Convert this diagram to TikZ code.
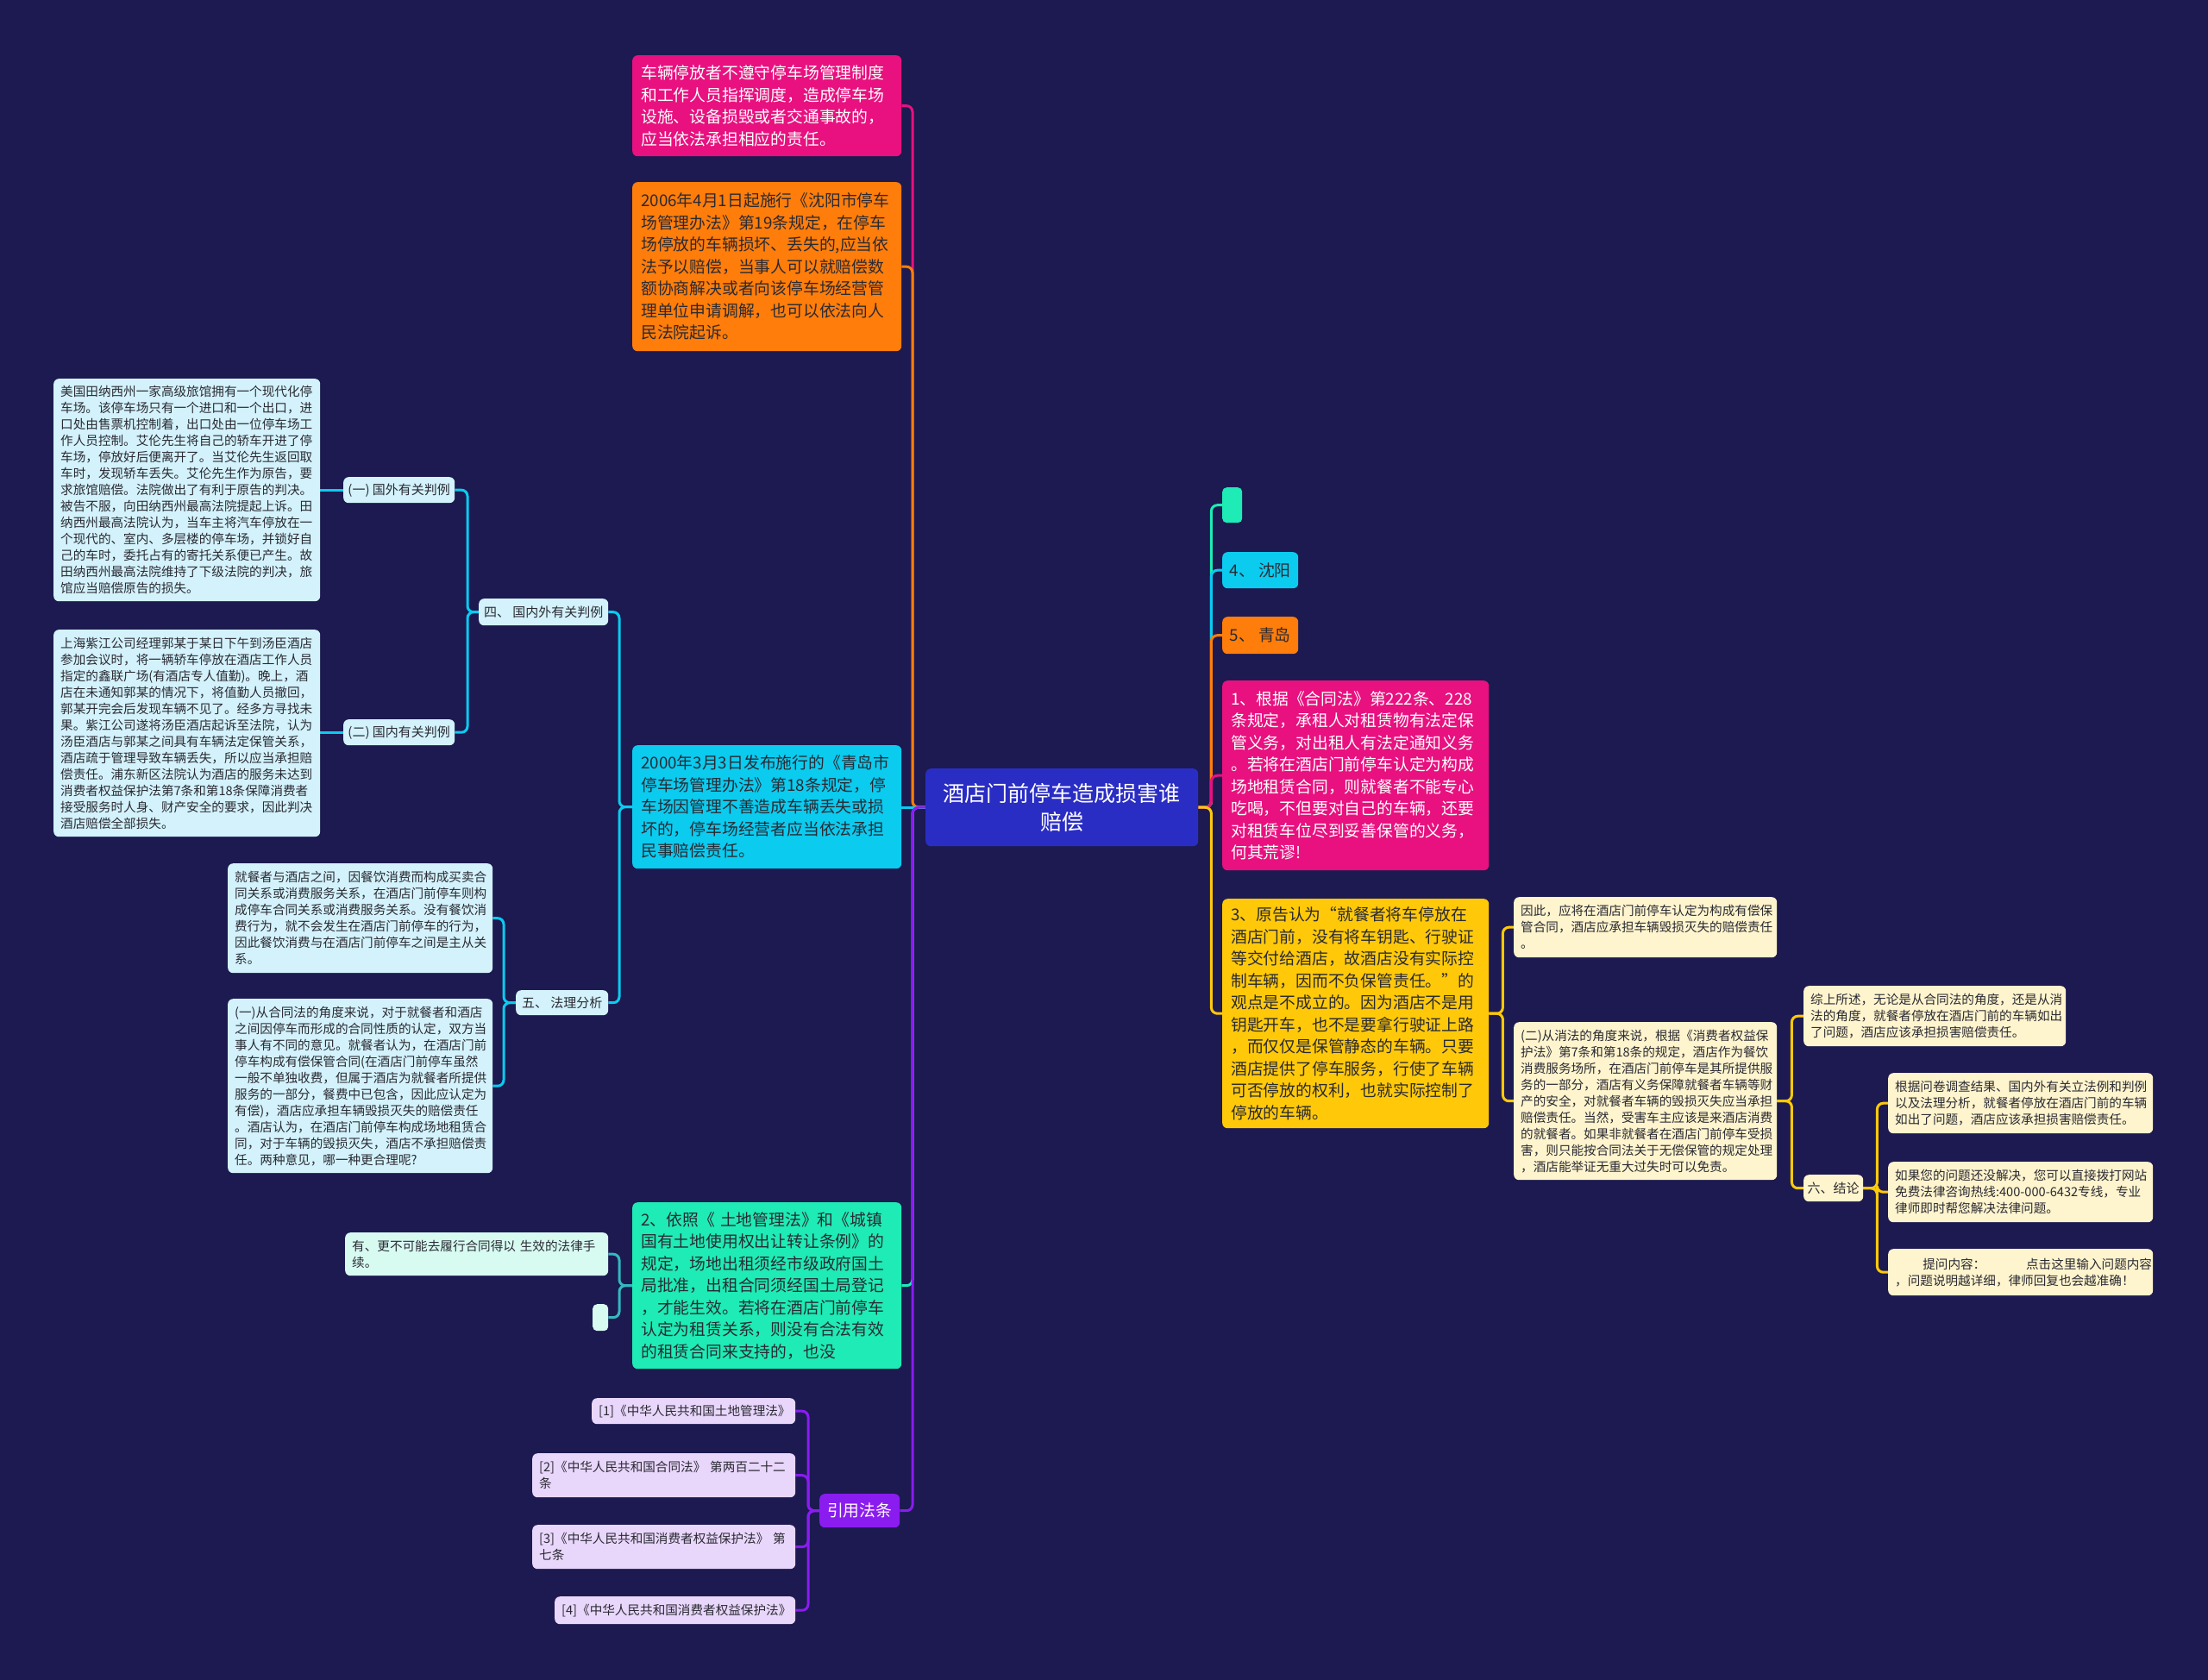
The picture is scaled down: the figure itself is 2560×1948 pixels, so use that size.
\documentclass[tikz,border=0pt]{standalone}
\usepackage{fontspec}
\setmainfont{Noto Sans CJK SC}
\definecolor{bg}{HTML}{1C1A50}
\definecolor{ccen}{HTML}{2A2DC4}
\definecolor{cpink}{HTML}{E8117F}
\definecolor{corange}{HTML}{FF7D0A}
\definecolor{ccyan}{HTML}{0BCBEF}
\definecolor{cteal}{HTML}{1EEBB5}
\definecolor{cteall}{HTML}{34B8BE}
\definecolor{cpurple}{HTML}{8A1CF0}
\definecolor{cyellow}{HTML}{FFC90A}
\definecolor{lcyan}{HTML}{D3F2FB}
\definecolor{lmint}{HTML}{D7FBF1}
\definecolor{llav}{HTML}{E9D6FB}
\definecolor{lcream}{HTML}{FEF4CD}
\definecolor{txtd}{HTML}{2A2A33}
\pgfdeclarelayer{bglayer}
\pgfdeclarelayer{connlayer}
\pgfsetlayers{bglayer,connlayer,main}
\tikzset{
 conn/.style={line width=3pt, rounded corners=7pt},
 bx/.style={anchor=north west, rounded corners=6pt, inner ysep=0pt, align=left},
 big/.style={bx, inner xsep=10pt, font=\fontsize{18.8}{25.5}\selectfont, text=txtd},
 sml/.style={bx, inner xsep=8pt, font=\fontsize{14.6}{19}\selectfont, text=txtd},
 lbl/.style={bx, inner xsep=4pt, align=center, font=\fontsize{15}{19}\selectfont, text=txtd},
 emp/.style={anchor=north west, rounded corners=5pt, inner sep=0pt},
}
\begin{document}
\begin{tikzpicture}[x=1pt,y=-1pt]
\begin{pgfonlayer}{bglayer}
\fill[bg] (0,0) rectangle (2560,1948);
\end{pgfonlayer}
\useasboundingbox (0,0) rectangle (2560,1948);

% ---------- nodes ----------
\node[bx, fill=ccen, text=white, align=center, inner xsep=10pt, minimum width=316pt, minimum height=90pt, text width=296pt, font=\fontsize{25}{33}\selectfont] (cen) at (1073,891) {酒店门前停车造成损害谁\\赔偿};

% left main
\node[big, fill=cpink, text=white, minimum width=312pt, minimum height=117pt, text width=292pt] (A) at (733,64) {车辆停放者不遵守停车场管理制度\\和工作人员指挥调度，造成停车场\\设施、设备损毁或者交通事故的，\\应当依法承担相应的责任。};
\node[big, fill=corange, minimum width=312pt, minimum height=196pt, text width=292pt] (B) at (733,211) {2006年4月1日起施行《沈阳市停车\\场管理办法》第19条规定，在停车\\场停放的车辆损坏、丢失的,应当依\\法予以赔偿，当事人可以就赔偿数\\额协商解决或者向该停车场经营管\\理单位申请调解，也可以依法向人\\民法院起诉。};
\node[big, fill=ccyan, minimum width=312pt, minimum height=143pt, text width=292pt] (C) at (733,864) {2000年3月3日发布施行的《青岛市\\停车场管理办法》第18条规定，停\\车场因管理不善造成车辆丢失或损\\坏的，停车场经营者应当依法承担\\民事赔偿责任。};
\node[big, fill=cteal, minimum width=312pt, minimum height=193pt, text width=292pt] (D) at (733,1394) {2、依照《 土地管理法》和《城镇\\国有土地使用权出让转让条例》的\\规定，场地出租须经市级政府国土\\局批准，出租合同须经国土局登记\\，才能生效。若将在酒店门前停车\\认定为租赁关系，则没有合法有效\\的租赁合同来支持的，也没};
\node[bx, fill=cpurple, text=white, align=center, inner xsep=2pt, minimum width=93pt, minimum height=39pt, font=\fontsize{18.8}{24}\selectfont] (yin) at (950,1732) {引用法条};

% left sub
\node[lbl, fill=lcyan, minimum width=150pt, minimum height=31pt] (si) at (555,694) {四、 国内外有关判例};
\node[lbl, fill=lcyan, minimum width=107pt, minimum height=29pt] (wu) at (598,1148) {五、 法理分析};
\node[lbl, fill=lcyan, minimum width=129pt, minimum height=30pt] (g1) at (398,553) {(一) 国外有关判例};
\node[lbl, fill=lcyan, minimum width=129pt, minimum height=30pt] (g2) at (398,834) {(二) 国内有关判例};

\node[sml, fill=lcyan, minimum width=309pt, minimum height=258pt, text width=293pt] (case1) at (62,439) {美国田纳西州一家高级旅馆拥有一个现代化停\\车场。该停车场只有一个进口和一个出口，进\\口处由售票机控制着，出口处由一位停车场工\\作人员控制。艾伦先生将自己的轿车开进了停\\车场，停放好后便离开了。当艾伦先生返回取\\车时，发现轿车丢失。艾伦先生作为原告，要\\求旅馆赔偿。法院做出了有利于原告的判决。\\被告不服，向田纳西州最高法院提起上诉。田\\纳西州最高法院认为，当车主将汽车停放在一\\个现代的、室内、多层楼的停车场，并锁好自\\己的车时，委托占有的寄托关系便已产生。故\\田纳西州最高法院维持了下级法院的判决，旅\\馆应当赔偿原告的损失。};
\node[sml, fill=lcyan, minimum width=309pt, minimum height=240pt, text width=293pt] (case2) at (62,730) {上海紫江公司经理郭某于某日下午到汤臣酒店\\参加会议时，将一辆轿车停放在酒店工作人员\\指定的鑫联广场(有酒店专人值勤)。晚上，酒\\店在未通知郭某的情况下，将值勤人员撤回，\\郭某开完会后发现车辆不见了。经多方寻找未\\果。紫江公司遂将汤臣酒店起诉至法院，认为\\汤臣酒店与郭某之间具有车辆法定保管关系，\\酒店疏于管理导致车辆丢失，所以应当承担赔\\偿责任。浦东新区法院认为酒店的服务未达到\\消费者权益保护法第7条和第18条保障消费者\\接受服务时人身、财产安全的要求，因此判决\\酒店赔偿全部损失。};
\node[sml, fill=lcyan, minimum width=307pt, minimum height=127pt, text width=291pt] (an1) at (264,1001) {就餐者与酒店之间，因餐饮消费而构成买卖合\\同关系或消费服务关系，在酒店门前停车则构\\成停车合同关系或消费服务关系。没有餐饮消\\费行为，就不会发生在酒店门前停车的行为，\\因此餐饮消费与在酒店门前停车之间是主从关\\系。};
\node[sml, fill=lcyan, minimum width=307pt, minimum height=202pt, text width=291pt] (an2) at (264,1158) {(一)从合同法的角度来说，对于就餐者和酒店\\之间因停车而形成的合同性质的认定，双方当\\事人有不同的意见。就餐者认为，在酒店门前\\停车构成有偿保管合同(在酒店门前停车虽然\\一般不单独收费，但属于酒店为就餐者所提供\\服务的一部分，餐费中已包含，因此应认定为\\有偿)，酒店应承担车辆毁损灭失的赔偿责任\\。酒店认为，在酒店门前停车构成场地租赁合\\同，对于车辆的毁损灭失，酒店不承担赔偿责\\任。两种意见，哪一种更合理呢?};

\node[sml, fill=lmint, minimum width=305pt, minimum height=50pt, text width=289pt] (D1) at (400,1429) {有、更不可能去履行合同得以 生效的法律手\\续。};
\node[emp, fill=lmint, minimum width=18pt, minimum height=31pt] (D2) at (687,1512) {};

\node[sml, fill=llav, minimum width=236pt, minimum height=30pt, text width=220pt] (R1) at (686,1621) {[1]《中华人民共和国土地管理法》};
\node[sml, fill=llav, minimum width=305pt, minimum height=51pt, text width=289pt] (R2) at (617,1685) {[2]《中华人民共和国合同法》 第两百二十二\\条};
\node[sml, fill=llav, minimum width=305pt, minimum height=51pt, text width=289pt] (R3) at (617,1768) {[3]《中华人民共和国消费者权益保护法》 第\\七条};
\node[sml, fill=llav, minimum width=279pt, minimum height=32pt, text width=263pt] (R4) at (643,1851) {[4]《中华人民共和国消费者权益保护法》};

% right main
\node[emp, fill=cteal, minimum width=23pt, minimum height=41pt] (E) at (1417,565) {};
\node[bx, fill=ccyan, text=txtd, align=center, inner xsep=2pt, minimum width=88pt, minimum height=42pt, font=\fontsize{18.8}{24}\selectfont] (SY) at (1417,640) {4、 沈阳};
\node[bx, fill=corange, text=txtd, align=center, inner xsep=2pt, minimum width=88pt, minimum height=43pt, font=\fontsize{18.8}{24}\selectfont] (QD) at (1417,715) {5、 青岛};
\node[big, fill=cpink, text=white, minimum width=309pt, minimum height=220pt, text width=289pt] (P1) at (1417,789) {1、根据《合同法》第222条、228\\条规定，承租人对租赁物有法定保\\管义务，对出租人有法定通知义务\\。若将在酒店门前停车认定为构成\\场地租赁合同，则就餐者不能专心\\吃喝，不但要对自己的车辆，还要\\对租赁车位尽到妥善保管的义务，\\何其荒谬!};
\node[big, fill=cyellow, minimum width=309pt, minimum height=266pt, text width=289pt] (P3) at (1417,1042) {3、原告认为“就餐者将车停放在\\酒店门前，没有将车钥匙、行驶证\\等交付给酒店，故酒店没有实际控\\制车辆，因而不负保管责任。”的\\观点是不成立的。因为酒店不是用\\钥匙开车，也不是要拿行驶证上路\\，而仅仅是保管静态的车辆。只要\\酒店提供了停车服务，行使了车辆\\可否停放的权利，也就实际控制了\\停放的车辆。};

% right sub
\node[sml, fill=lcream, minimum width=305pt, minimum height=70pt, text width=289pt] (Y1) at (1755,1040) {因此，应将在酒店门前停车认定为构成有偿保\\管合同，酒店应承担车辆毁损灭失的赔偿责任\\。};
\node[sml, fill=lcream, minimum width=305pt, minimum height=183pt, text width=289pt] (Y2) at (1755,1185) {(二)从消法的角度来说，根据《消费者权益保\\护法》第7条和第18条的规定，酒店作为餐饮\\消费服务场所，在酒店门前停车是其所提供服\\务的一部分，酒店有义务保障就餐者车辆等财\\产的安全，对就餐者车辆的毁损灭失应当承担\\赔偿责任。当然，受害车主应该是来酒店消费\\的就餐者。如果非就餐者在酒店门前停车受损\\害，则只能按合同法关于无偿保管的规定处理\\，酒店能举证无重大过失时可以免责。};
\node[sml, fill=lcream, minimum width=304pt, minimum height=70pt, text width=288pt] (Z1) at (2091,1143) {综上所述，无论是从合同法的角度，还是从消\\法的角度，就餐者停放在酒店门前的车辆如出\\了问题，酒店应该承担损害赔偿责任。};
\node[lbl, fill=lcream, minimum width=69pt, minimum height=31pt] (L6) at (2091,1362) {六、结论};
\node[sml, fill=lcream, minimum width=307pt, minimum height=70pt, text width=291pt] (Z2) at (2189,1244) {根据问卷调查结果、国内外有关立法例和判例\\以及法理分析，就餐者停放在酒店门前的车辆\\如出了问题，酒店应该承担损害赔偿责任。};
\node[sml, fill=lcream, minimum width=307pt, minimum height=70pt, text width=291pt] (Z3) at (2189,1347) {如果您的问题还没解决，您可以直接拨打网站\\免费法律咨询热线:400-000-6432专线，专业\\律师即时帮您解决法律问题。};
\node[sml, fill=lcream, minimum width=307pt, minimum height=54pt, text width=291pt] (Z4) at (2189,1448) {\hspace*{2.2em}提问内容：\hspace*{3.2em}点击这里输入问题内容\\，问题说明越详细，律师回复也会越准确！};

% ---------- connectors ----------
\begin{pgfonlayer}{connlayer}
% central -> left
\draw[conn, cpink] (cen.west) -- ++(-15,0) |- (A.east);
\draw[conn, corange] (cen.west) -- ++(-15,0) |- (B.east);
\draw[conn, ccyan] (cen.west) -- (cen.west -| C.east);
\draw[conn, cteal] (cen.west) -- ++(-15,0) |- (D.east);
\draw[conn, cpurple] (cen.west) -- ++(-15,0) |- (yin.east);
% central -> right
\draw[conn, cteal] (cen.east) -- ++(15,0) |- (E.west);
\draw[conn, ccyan] (cen.east) -- ++(15,0) |- (SY.west);
\draw[conn, corange] (cen.east) -- ++(15,0) |- (QD.west);
\draw[conn, cpink] (cen.east) -- ++(15,0) |- (P1.west);
\draw[conn, cyellow] (cen.east) -- ++(15,0) |- (P3.west);
% C subtree
\draw[conn, ccyan] (C.west) -- ++(-15,0) |- (si.east);
\draw[conn, ccyan] (C.west) -- ++(-15,0) |- (wu.east);
\draw[conn, ccyan] (si.west) -- ++(-13,0) |- (g1.east);
\draw[conn, ccyan] (si.west) -- ++(-13,0) |- (g2.east);
\draw[conn, ccyan] (g1.west) -- (g1.west -| case1.east);
\draw[conn, ccyan] (g2.west) -- (g2.west -| case2.east);
\draw[conn, ccyan] (wu.west) -- ++(-14,0) |- (an1.east);
\draw[conn, ccyan] (wu.west) -- ++(-14,0) |- (an2.east);
% D subtree
\draw[conn, cteall] (D.west) -- ++(-15,0) |- (D1.east);
\draw[conn, cteall] (D.west) -- ++(-15,0) |- (D2.east);
% references
\draw[conn, cpurple] (yin.west) -- ++(-13,0) |- (R1.east);
\draw[conn, cpurple] (yin.west) -- ++(-13,0) |- (R2.east);
\draw[conn, cpurple] (yin.west) -- ++(-13,0) |- (R3.east);
\draw[conn, cpurple] (yin.west) -- ++(-13,0) |- (R4.east);
% P3 subtree
\draw[conn, cyellow] (P3.east) -- ++(16,0) |- (Y1.west);
\draw[conn, cyellow] (P3.east) -- ++(16,0) |- (Y2.west);
\draw[conn, cyellow] (Y2.east) -- ++(17,0) |- (Z1.west);
\draw[conn, cyellow] (Y2.east) -- ++(17,0) |- (L6.west);
\draw[conn, cyellow] (L6.east) -- ++(16,0) |- (Z2.west);
\draw[conn, cyellow] (L6.east) -- ++(16,0) |- (Z3.west);
\draw[conn, cyellow] (L6.east) -- ++(16,0) |- (Z4.west);
\end{pgfonlayer}
\end{tikzpicture}
\end{document}
